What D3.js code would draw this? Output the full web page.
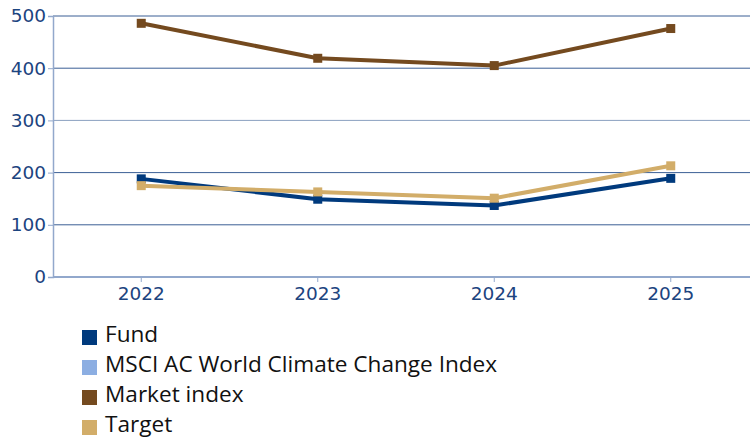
<!DOCTYPE html>
<html><head><meta charset="utf-8">
<script src="https://cdn.jsdelivr.net/npm/d3@7"></script>
<style>body{margin:0;background:#fff}svg{display:block}
.ax text{font-family:"DejaVu Sans",Verdana,sans-serif;font-size:18.5px;fill:#1c447f}
.lg text{font-family:"Open Sans",sans-serif;font-size:22.6px;fill:#111}
</style>
</head><body>
<svg id="c" width="750" height="443"></svg>
<script>
const years = ["2022","2023","2024","2025"];
const fund = [188, 149, 137, 189];
const msci = [null, null, null, null];
const market = [486, 419, 405, 476];
const target = [175, 163, 151, 213];
const yTicks = [0,100,200,300,400,500];
const seriesNames = ["Fund","MSCI AC World Climate Change Index","Market index","Target"];
const seriesColors = ["#003a7d","#8caee2","#744a1f","#d2ad69"];
const seriesValues = [fund, msci, market, target];

const svg = d3.select("#c");
const x = d3.scaleBand().domain(years).range([53, 759]);
const y = d3.scaleLinear().domain([0,500]).range([277,16]);
const cx = d => x(d) + x.bandwidth()/2;

// grid
svg.append("g").selectAll("line").data(yTicks.filter(t=>t>0)).join("line")
  .attr("x1",53).attr("x2",750).attr("y1",d=>y(d)).attr("y2",d=>y(d))
  .attr("stroke",d=>d===300?"#8aa0c0":"#3b5f95").attr("stroke-width",1);

// y axis
const ya = svg.append("g").attr("class","ax").attr("transform","translate(53,0)")
  .call(d3.axisLeft(y).tickValues(yTicks).tickSize(5).tickPadding(2));
ya.attr("font-family",null).attr("font-size",null);
ya.selectAll("text").attr("font-family","DejaVu Sans");
ya.select(".domain").attr("stroke","#92a8cc").attr("stroke-width",1.5);
ya.selectAll(".tick line").attr("stroke","#92a8cc");

// x axis
const xa = svg.append("g").attr("class","ax").attr("transform","translate(0,277)")
  .call(d3.axisBottom(x).tickSize(5).tickSizeOuter(0).tickPadding(5));
xa.attr("font-family",null).attr("font-size",null);
xa.selectAll("text").attr("font-family","DejaVu Sans");
xa.select(".domain").attr("stroke","#92a8cc").attr("stroke-width",2).attr("d","M53,0H750");
xa.selectAll(".tick line").attr("stroke","#92a8cc");

// lines
const line = d3.line().defined(d=>d.v!=null).x(d=>cx(d.k)).y(d=>y(d.v));
const order = [2,0,3];
order.forEach(i=>{
  const data = years.map((k,j)=>({k, v: seriesValues[i][j]}));
  svg.append("path").datum(data).attr("d",line).attr("fill","none")
    .attr("stroke",seriesColors[i]).attr("stroke-width",4).attr("stroke-linejoin","round");
  svg.append("g").selectAll("rect").data(data.filter(d=>d.v!=null)).join("rect")
    .attr("x",d=>cx(d.k)-4.5).attr("y",d=>y(d.v)-4.5).attr("width",9).attr("height",9)
    .attr("fill",seriesColors[i]);
});

// legend
const lg = svg.append("g").attr("class","lg").selectAll("g").data(seriesNames).join("g")
  .attr("transform",(d,i)=>`translate(82,${342 + i*30})`);
lg.append("rect").attr("x",0).attr("y",-12).attr("width",15).attr("height",15)
  .attr("fill",(d,i)=>seriesColors[i]);
lg.append("text").attr("x",23).attr("y",0).text(d=>d);
</script>
</body></html>
